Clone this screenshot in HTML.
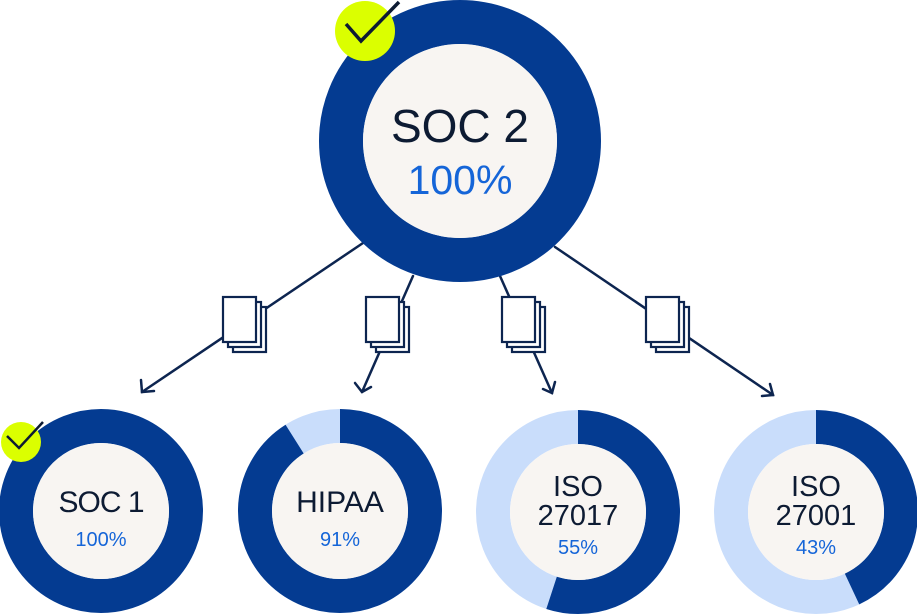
<!DOCTYPE html>
<html><head><style>
html,body{margin:0;padding:0;background:#fff;}
svg{display:block;}
text{font-family:"Liberation Sans",sans-serif;text-anchor:middle;}
</style></head><body>
<svg width="917" height="615" viewBox="0 0 917 615" xmlns="http://www.w3.org/2000/svg">
<defs>
<g id="doc">
<rect x="10" y="10" width="33" height="45" fill="#fff" stroke="#0d2550" stroke-width="2.2"/>
<rect x="5" y="5" width="33" height="45" fill="#fff" stroke="#0d2550" stroke-width="2.2"/>
<rect x="0" y="0" width="33" height="45" fill="#fff" stroke="#0d2550" stroke-width="2.2"/>
</g>
</defs>
<g stroke="#0d2550" stroke-width="2.5" fill="none" stroke-linecap="round">
<line x1="363" y1="243" x2="142" y2="392"/>
<polyline points="141,380 142,392 154,391"/>
<line x1="413" y1="276" x2="362" y2="392"/>
<polyline points="355,383 362,392 371,387"/>
<line x1="500" y1="276" x2="552" y2="393"/>
<polyline points="543,389 552,393 555,382"/>
<line x1="555" y1="247" x2="773" y2="395"/>
<polyline points="762,396 773,395 770,384"/>
</g>
<use href="#doc" x="223" y="297"/>
<use href="#doc" x="366" y="297"/>
<use href="#doc" x="502" y="297"/>
<use href="#doc" x="646" y="297"/>

<circle cx="460" cy="141" r="119" fill="none" stroke="#043b91" stroke-width="44"/>
<circle cx="460" cy="141" r="97" fill="#f8f5f2"/>
<text x="460" y="142" font-size="46" fill="#0d1b33">SOC 2</text>
<text x="460" y="194" font-size="41" fill="#1565d8">100%</text>
<circle cx="365" cy="31" r="30" fill="#dbff00"/>
<polyline points="346,24 361,41 399,2" fill="none" stroke="#0d1b33" stroke-width="3.5"/>

<!-- SOC1 -->
<circle cx="101" cy="511" r="85" fill="none" stroke="#043b91" stroke-width="34"/>
<circle cx="101" cy="511" r="68" fill="#f8f5f2"/>
<text x="101" y="512" font-size="30" fill="#0d1b33" letter-spacing="-1">SOC 1</text>
<text x="101" y="546" font-size="20" fill="#1565d8">100%</text>
<circle cx="21" cy="442" r="20" fill="#dbff00"/>
<polyline points="7,436 19,448 43,422" fill="none" stroke="#0d1b33" stroke-width="2.5"/>

<!-- HIPAA -->
<circle cx="340" cy="511" r="85" fill="none" stroke="#c9ddfb" stroke-width="34"/>
<circle cx="340" cy="511" r="85" fill="none" stroke="#043b91" stroke-width="34" stroke-dasharray="486.0 534.1" transform="rotate(-90 340 511)"/>
<circle cx="340" cy="511" r="68" fill="#f8f5f2"/>
<text x="340" y="512" font-size="30" fill="#0d1b33">HIPAA</text>
<text x="340" y="546" font-size="20" fill="#1565d8">91%</text>

<!-- ISO 27017 -->
<circle cx="578" cy="512" r="85" fill="none" stroke="#c9ddfb" stroke-width="34"/>
<circle cx="578" cy="512" r="85" fill="none" stroke="#043b91" stroke-width="34" stroke-dasharray="293.8 534.1" transform="rotate(-90 578 512)"/>
<circle cx="578" cy="512" r="68" fill="#f8f5f2"/>
<text x="578" y="496" font-size="29" fill="#0d1b33">ISO</text>
<text x="578" y="525" font-size="29" fill="#0d1b33">27017</text>
<text x="578" y="554" font-size="20" fill="#1565d8">55%</text>

<!-- ISO 27001 -->
<circle cx="816" cy="512" r="85" fill="none" stroke="#c9ddfb" stroke-width="34"/>
<circle cx="816" cy="512" r="85" fill="none" stroke="#043b91" stroke-width="34" stroke-dasharray="229.7 534.1" transform="rotate(-90 816 512)"/>
<circle cx="816" cy="512" r="68" fill="#f8f5f2"/>
<text x="816" y="496" font-size="29" fill="#0d1b33">ISO</text>
<text x="816" y="525" font-size="29" fill="#0d1b33">27001</text>
<text x="816" y="554" font-size="20" fill="#1565d8">43%</text>
</svg>
</body></html>
